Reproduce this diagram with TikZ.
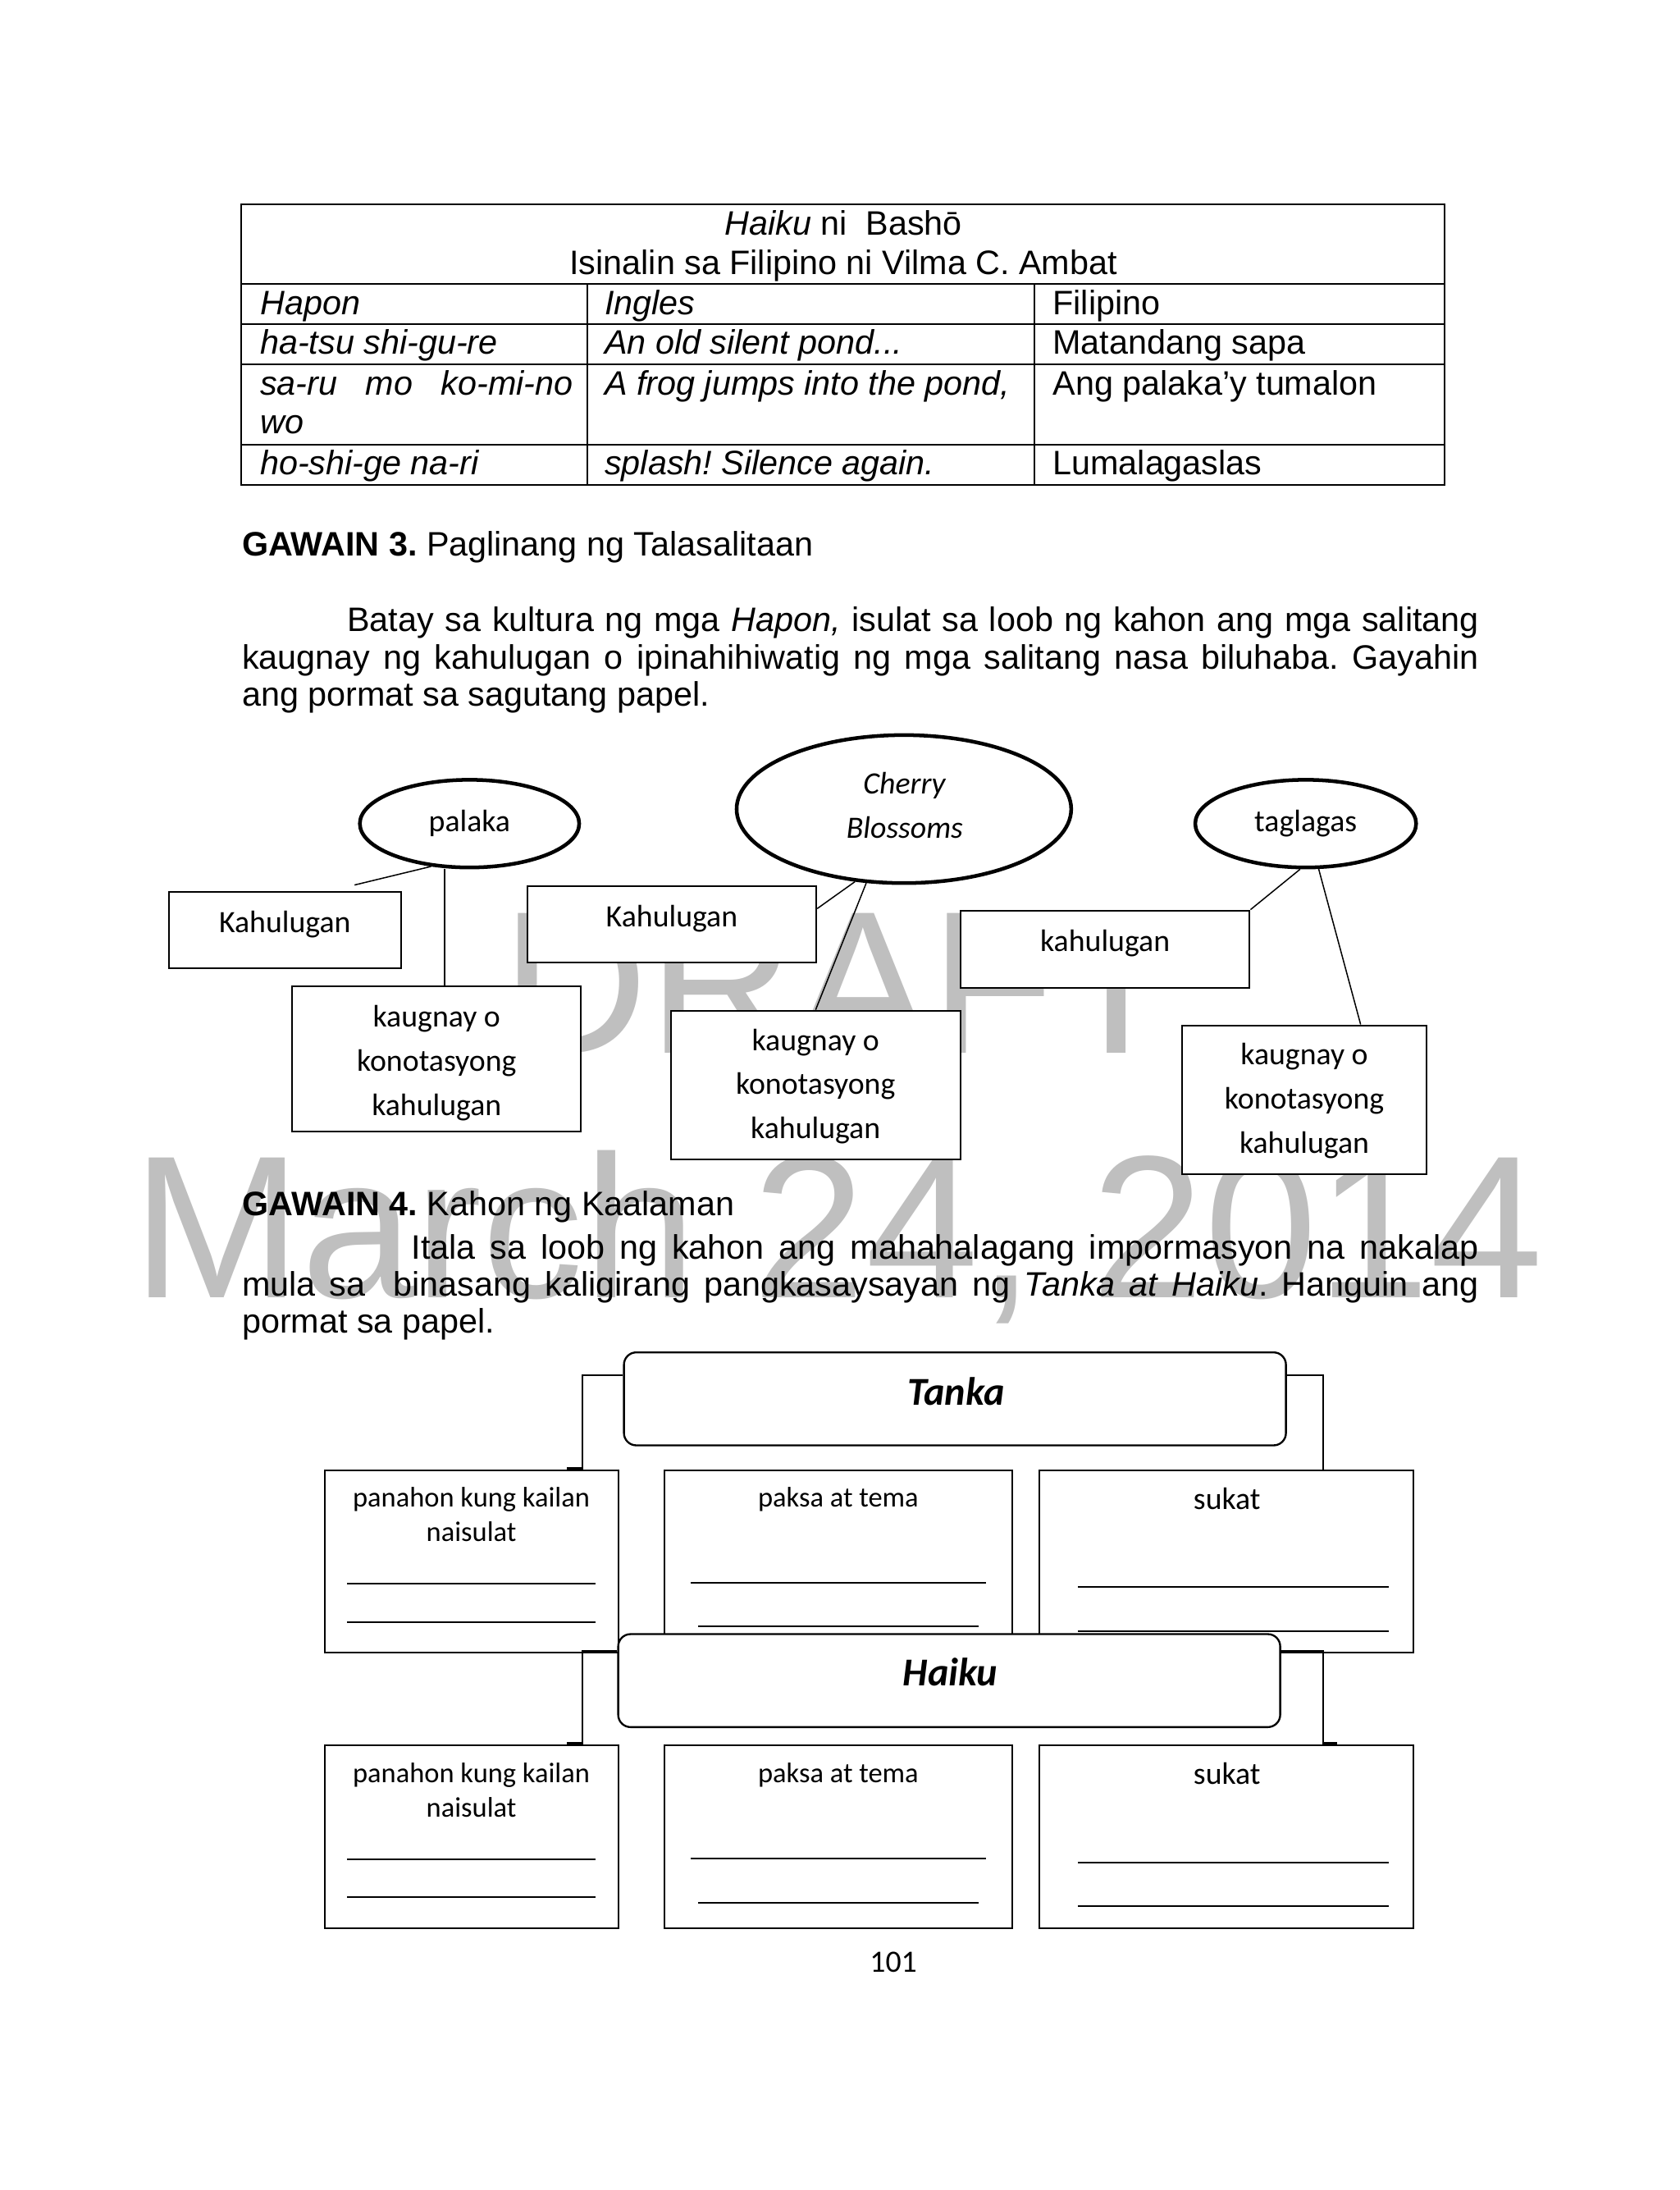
\documentclass[tikz,border=0pt]{standalone}
\usepackage{fontspec}
\setmainfont{Liberation Sans}
\newfontfamily\calfont{Carlito}
\usetikzlibrary{shapes.geometric,calc}
\newdimen\du \du=0.51pt
\definecolor{wmgray}{RGB}{191,191,191}
\tikzset{
 wm/.style={font=\fontsize{74}{80}\selectfont, text=wmgray, inner sep=0pt, anchor=base west},
 body/.style={font=\fontsize{12.35}{14}\selectfont\frenchspacing, inner sep=0pt, anchor=base west},
 bodyc/.style={body, anchor=base},
 tbl/.style={line width=0.6pt},
 ell/.style={ellipse, draw, fill=white, line width=1.35pt, inner sep=0pt, font=\calfont\fontsize{11.3}{13}\selectfont},
 kbox/.style={rectangle, draw, fill=white, line width=0.6pt, inner sep=0pt},
 rbox/.style={rounded corners=4.5pt, line width=0.7pt},
 ctxt/.style={font=\calfont\fontsize{11.3}{13}\selectfont, inner sep=0pt, anchor=base},
 stxt/.style={font=\calfont\fontsize{10.3}{12}\selectfont, inner sep=0pt, anchor=base},
 ttxt/.style={font=\calfont\bfseries\itshape\fontsize{14.4}{16}\selectfont, inner sep=0pt, anchor=base},
 conn/.style={line width=0.45pt},
 conn2/.style={line width=0.6pt},
 stub/.style={line width=1.3pt},
 blank/.style={line width=0.6pt},
}
\newcommand\mkbox[6][]{\node[kbox,#1,minimum width={(#5-#3)*\du},minimum height={(#6-#4)*\du}] (#2) at ({(#3+#5)/2},{(#4+#6)/2}) {};}
\begin{document}
\begin{tikzpicture}[x=0.51pt,y=-0.51pt]
\useasboundingbox (0,0) rectangle (1200,1564);
\fill[white] (0,0) rectangle (1200,1564);

% watermarks
\node[wm] (wmdraft) at (358,752) {DRAFT};
\node[wm] (wmdate) at (94,927) {March 24, 2014};

% table
\draw[tbl] (172.5,146.1) rectangle (1032,346.1);
\draw[tbl] (172.5,202.7) -- (1032,202.7);
\draw[tbl] (172.5,231.2) -- (1032,231.2);
\draw[tbl] (172.5,260.3) -- (1032,260.3);
\draw[tbl] (172.5,317.4) -- (1032,317.4);
\draw[tbl] (419.3,202.7) -- (419.3,346.1);
\draw[tbl] (738.7,202.7) -- (738.7,346.1);
\node[bodyc] (th1) at (602.5,168) {\textit{Haiku} ni~~Bashō};
\node[bodyc] (th2) at (602.5,196.3) {Isinalin sa Filipino ni Vilma C. Ambat};
\node[body] (ta1) at (185.5,224.6) {\textit{Hapon}};
\node[body] (tb1) at (431.6,224.6) {\textit{Ingles}};
\node[body] (tc1) at (751.7,224.6) {Filipino};
\node[body] (ta2) at (185.5,252.9) {\textit{ha-tsu shi-gu-re}};
\node[body] (tb2) at (431.6,252.9) {\textit{An old silent pond...}};
\node[body] (tc2) at (751.7,252.9) {Matandang sapa};
\node[body] (ta3) at (185.5,282.2) {\hbox to 223.5\du{\itshape sa-ru\hfill mo\hfill ko-mi-no}};
\node[body] (ta3b) at (185.5,309.6) {\textit{wo}};
\node[body] (tb3) at (431.6,282.2) {\textit{A frog jumps into the pond,}};
\node[body] (tc3) at (751.7,282.2) {Ang palaka’y tumalon};
\node[body] (ta4) at (185.5,338.9) {\textit{ho-shi-ge na-ri}};
\node[body] (tb4) at (431.6,338.9) {\textit{splash! Silence again.}};
\node[body] (tc4) at (751.7,338.9) {Lumalagaslas};

% Gawain 3
\node[body] (g3) at (172.5,397) {\textbf{GAWAIN 3.} Paglinang ng Talasalitaan};
\node[body] (p1a) at (247.7,451.2) {\hbox to 808.3\du{Batay sa kultura ng mga \textit{Hapon,} isulat sa loob ng kahon ang mga salitang}};
\node[body] (p1b) at (172.5,477.6) {\hbox to 883.5\du{kaugnay ng kahulugan o ipinahihiwatig ng mga salitang nasa biluhaba. Gayahin}};
\node[body] (p1c) at (172.5,504) {ang pormat sa sagutang papel.};

% diagram 1
\node[ell, minimum width=156.7\du, minimum height=62.6\du] (palaka) at (335.4,588.2) {palaka};
\node[ell, minimum width=239\du, minimum height=105.7\du] (cherry) at (645.7,577.8) {};
\node[ell, minimum width=157.8\du, minimum height=62.6\du] (taglagas) at (932.7,588.2) {taglagas};
\node[ctxt] (tcherry1) at (646.3,567.1) {\textit{Cherry}};
\node[ctxt] (tcherry2) at (646.3,598.7) {\textit{Blossoms}};

\mkbox{kah1}{120.5}{637}{286.5}{691.5}
\mkbox{kaug1}{208.8}{704.3}{415}{807.9}
\mkbox{kah2}{376.5}{632.6}{583.2}{687.6}
\mkbox{kaug2}{479.3}{721.7}{686}{827.9}
\mkbox{kah3}{686}{650.2}{892.7}{705.3}
\mkbox{kaug3}{844.6}{732.2}{1018.9}{838.4}

\node[ctxt] (tkah1) at (203.5,666) {Kahulugan};
\node[ctxt] (tkaug1a) at (311.9,733.3) {kaugnay o};
\node[ctxt] (tkaug1b) at (311.9,764.8) {konotasyong};
\node[ctxt] (tkaug1c) at (311.9,796.4) {kahulugan};
\node[ctxt] (tkah2) at (479.9,661.8) {Kahulugan};
\node[ctxt] (tkaug2a) at (582.6,750.1) {kaugnay o};
\node[ctxt] (tkaug2b) at (582.6,781.6) {konotasyong};
\node[ctxt] (tkaug2c) at (582.6,813.2) {kahulugan};
\node[ctxt] (tkah3) at (789.4,679.7) {kahulugan};
\node[ctxt] (tkaug3a) at (931.75,760.6) {kaugnay o};
\node[ctxt] (tkaug3b) at (931.75,792.2) {konotasyong};
\node[ctxt] (tkaug3c) at (931.75,823.7) {kahulugan};

\coordinate (c1) at ($(kah1.north east)+(-33.8,-4.4)$);
\draw[conn] (c1) -- (palaka.228);
\draw[conn] ([xshift=5.7\du]kaug1.north) -- ([xshift=5.7\du]kaug1.north |- palaka.south);
\draw[conn] ($(kah2.north east)!0.3!(kah2.south east)$) -- (cherry.236);
\draw[conn] (kaug2.north) -- (cherry.243);
\draw[conn] (kah3.north east) -- (taglagas.263);
\draw[conn] ([xshift=40.2\du]kaug3.north) -- (taglagas.286);

% Gawain 4
\node[body] (g4) at (172.9,868.2) {\textbf{GAWAIN 4.} Kahon ng Kaalaman};
\node[body] (p2a) at (293.6,899) {\hbox to 762.4\du{Itala sa loob ng kahon ang mahahalagang impormasyon na nakalap}};
\node[body] (p2b) at (172.5,925.4) {\hbox to 883.5\du{mula sa\ \ binasang kaligirang pangkasaysayan ng \textit{Tanka at Haiku}. Hanguin ang}};
\node[body] (p2c) at (172.5,951.8) {pormat sa papel.};

% diagram 2
\coordinate (lbar) at (415.8,0);
\coordinate (rbar) at (944.9,0);
\mkbox{panahon1}{231.8}{1049.8}{441.6}{1180.1}
\mkbox{paksa1}{474.6}{1049.8}{722.9}{1180.1}
\mkbox{sukat1}{742.2}{1049.8}{1009.8}{1180.1}
\mkbox[rbox]{tanka}{445.7}{965.8}{918.6}{1032.2}
\node[ttxt] (ttanka) at (682.9,1003.5) {Tanka};
\draw[conn2] ($(tanka.north west)!0.25!(tanka.south west)$) -| (panahon1.north -| lbar);
\draw[conn2] ($(tanka.north east)!0.25!(tanka.south east)$) -| (sukat1.north -| rbar);
\draw[stub] ([xshift=-10.9\du]panahon1.north -| lbar) -- (panahon1.north -| lbar);

\node[stxt] (tpan1a) at (336.7,1076.2) {panahon kung kailan};
\node[stxt] (tpan1b) at (336.7,1100.6) {naisulat};
\node[stxt] (tpak1) at (598.8,1076.2) {paksa at tema};
\node[ctxt] (tsuk1) at (876.5,1077.7) {sukat};
\draw[blank] (248,1131.2) -- (425.4,1131.2);
\draw[blank] (248,1158.6) -- (425.4,1158.6);
\draw[blank] (493.3,1130.4) -- (704.2,1130.4);
\draw[blank] (498.9,1161.7) -- (699,1161.7);
\draw[blank] (770,1133.2) -- (992,1133.2);
\draw[blank] (770,1165) -- (992,1165);

\mkbox[rbox]{haiku}{441.6}{1167}{914.5}{1233.4}
\node[ttxt] (thaiku) at (678.8,1204.1) {Haiku};
\mkbox{panahon2}{231.8}{1246.1}{441.6}{1376.9}
\mkbox{paksa2}{474.6}{1246.1}{722.9}{1376.9}
\mkbox{sukat2}{742.2}{1246.1}{1009.8}{1376.9}
\draw[conn2] ($(haiku.north west)!0.19!(haiku.south west)$) -| (panahon2.north -| lbar);
\draw[conn2] ($(haiku.north east)!0.19!(haiku.south east)$) -| (sukat2.north -| rbar);
\draw[stub] ([xshift=-10.9\du]panahon2.north -| lbar) -- (panahon2.north -| lbar);
\draw[stub] (sukat2.north -| rbar) -- ([xshift=10\du]sukat2.north -| rbar);

\node[stxt] (tpan2a) at (336.7,1273) {panahon kung kailan};
\node[stxt] (tpan2b) at (336.7,1297.8) {naisulat};
\node[stxt] (tpak2) at (598.8,1273) {paksa at tema};
\node[ctxt] (tsuk2) at (876.5,1274.4) {sukat};
\draw[blank] (248,1327.7) -- (425.4,1327.7);
\draw[blank] (248,1355) -- (425.4,1355);
\draw[blank] (493.3,1327.1) -- (704.2,1327.1);
\draw[blank] (498.9,1359) -- (699,1359);
\draw[blank] (770,1330) -- (992,1330);
\draw[blank] (770,1361.3) -- (992,1361.3);

\node[ctxt] (pagenum) at (638.2,1408.2) {101};
\end{tikzpicture}
\end{document}
